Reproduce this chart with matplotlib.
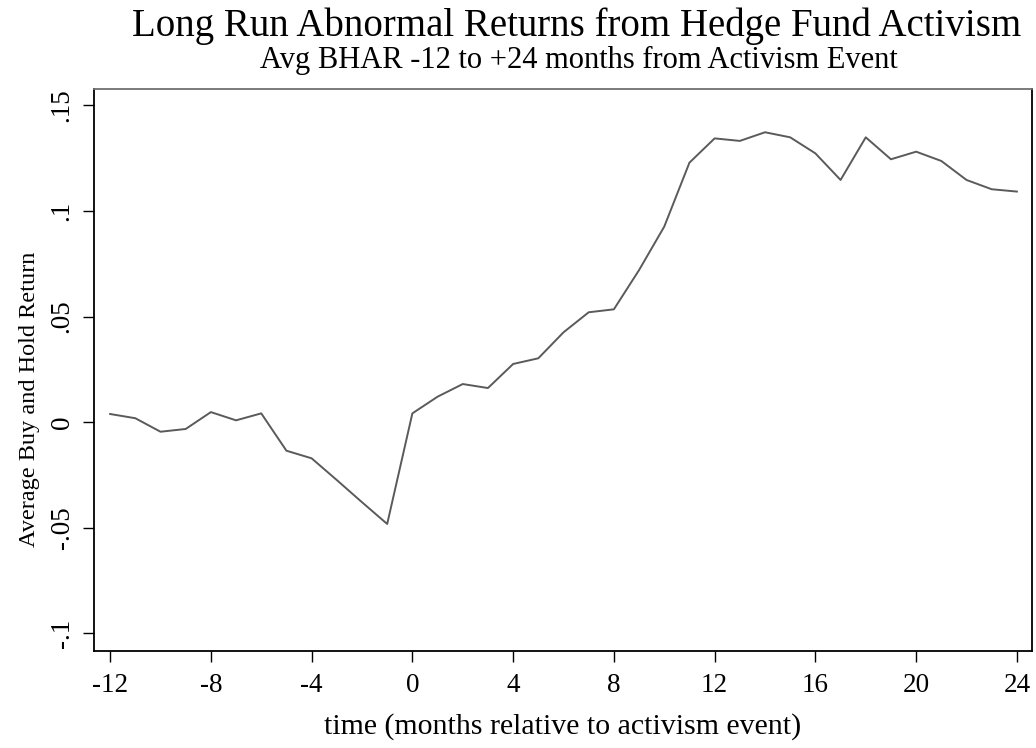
import matplotlib
matplotlib.use("Agg")
import matplotlib.pyplot as plt

months = list(range(-12, 25))
bhar = [0.0038, 0.0018, -0.0046, -0.0033, 0.0047, 0.0008, 0.0041, -0.0136, -0.0172,
        -0.0275, -0.0380, -0.0483,
        0.0041, 0.0120, 0.0180, 0.0161, 0.0275, 0.0302, 0.0425, 0.0520, 0.0534,
        0.0720, 0.0926, 0.1229,
        0.1344, 0.1332, 0.1373, 0.1349, 0.1273, 0.1147, 0.1349, 0.1245, 0.1281,
        0.1237, 0.1147, 0.1103, 0.1092]
xticks = [-12, -8, -4, 0, 4, 8, 12, 16, 20, 24]
yticks = [-0.1, -0.05, 0, 0.05, 0.1, 0.15]
yticklabels = ["-.1", "-.05", "0", ".05", ".1", ".15"]

plt.rcParams['font.family'] = ['Liberation Serif', 'DejaVu Serif']

fig = plt.figure(figsize=(10.36, 7.48), dpi=100)
ax = fig.add_axes([94/1036, 97/748, (1032-94)/1036, (651-89)/748])

ax.plot(months, bhar, color='#5a5a5a', linewidth=1.4)
ax.set_xlim(-12.64, 24.6)
ax.set_ylim(-0.1085, 0.1578)
ax.set_xticks(xticks)
ax.set_xticklabels([str(t) for t in xticks], fontsize=19.5)
ax.set_yticks(yticks)
ax.set_yticklabels(yticklabels, fontsize=19.5, rotation=90, va='center')
ax.tick_params(axis='both', direction='out', length=8, width=1.0, color='black')
ax.tick_params(axis='x', pad=8)
ax.tick_params(axis='y', pad=6)

for s in ['left', 'bottom', 'right']:
    ax.spines[s].set_color('black')
    ax.spines[s].set_linewidth(1.3)
ax.spines['top'].set_color('#707070')
ax.spines['top'].set_linewidth(1.3)

ax.set_xlabel("time (months relative to activism event)", fontsize=21.5)
ax.xaxis.set_label_coords((563 - 94) / 938, -(740 - 651) / 562)
ax.xaxis.label.set_verticalalignment('bottom')
ax.set_ylabel("Average Buy and Hold Return", fontsize=17.5)
ax.yaxis.set_label_coords((40 - 94) / 938, (651 - 399) / 562)

fig.text(577/1036, 1 - 36/748, "Long Run Abnormal Returns from Hedge Fund Activism",
         ha='center', va='baseline', fontsize=28)
fig.text(579/1036, 1 - 68/748, "Avg BHAR -12 to +24 months from Activism Event",
         ha='center', va='baseline', fontsize=22)

fig.savefig("out.png", dpi=100, facecolor='white')
